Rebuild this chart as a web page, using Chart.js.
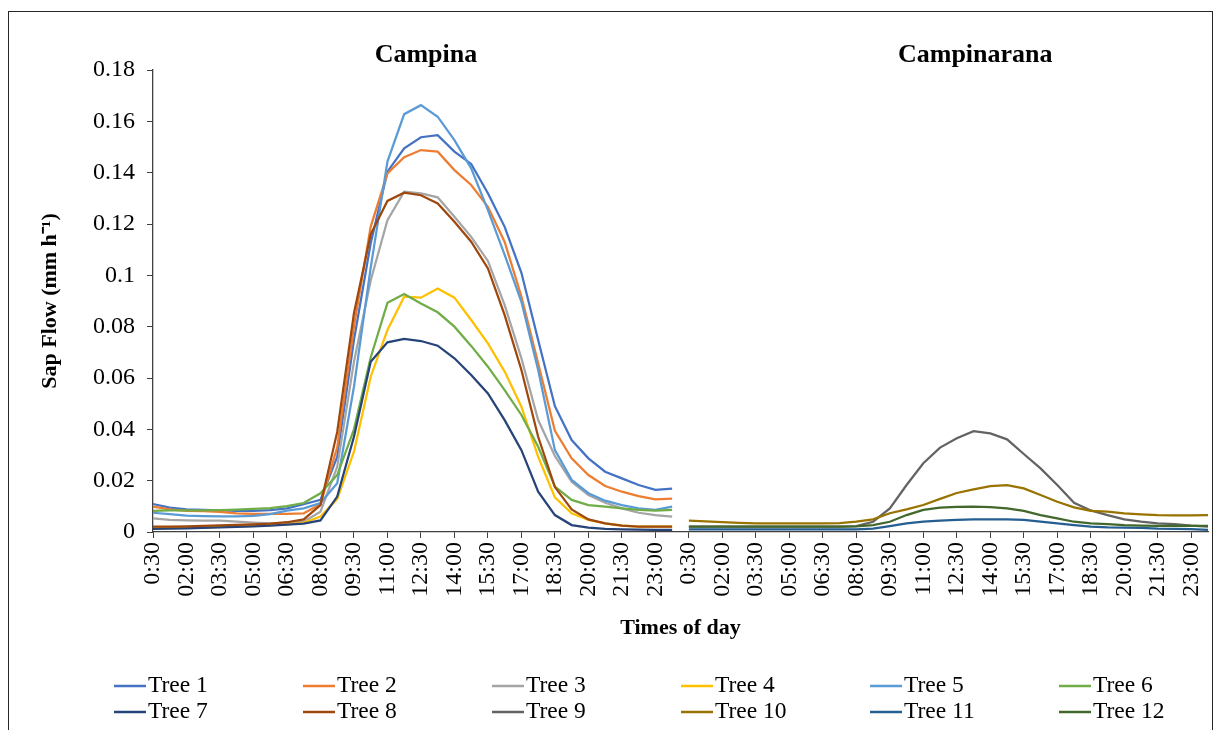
<!DOCTYPE html>
<html>
<head>
<meta charset="utf-8">
<script src="https://cdn.jsdelivr.net/npm/chart.js@4.4.1/dist/chart.umd.min.js"></script>
<style>
  body { margin: 0; background: #fff; }
  #wrap { width: 1217px; height: 730px; }
</style>
</head>
<body>
<div id="wrap"><canvas id="sapChart" width="1217" height="730"></canvas></div>
<script>
// times of day, one entry every 45 min
const times = ['0:30','01:15','02:00','02:45','03:30','04:15','05:00','05:45','06:30','07:15','08:00','08:45',
  '09:30','10:15','11:00','11:45','12:30','13:15','14:00','14:45','15:30','16:15','17:00','17:45',
  '18:30','19:15','20:00','20:45','21:30','22:15','23:00','23:45'];

const sites = ['Campina', 'Campinarana'];

// Campina
const tree1 = [0.0109,0.0095,0.0088,0.0086,0.0084,0.0082,0.0082,0.0085,0.0092,0.0108,0.0125,0.0293,0.0748,0.1125,0.1404,0.1495,0.1538,0.1546,0.1482,0.1434,0.1320,0.1189,0.1010,0.0748,0.0490,0.0358,0.0287,0.0235,0.0209,0.0183,0.0164,0.0169];
const tree2 = [0.0099,0.0088,0.0082,0.0081,0.0078,0.0073,0.0071,0.0071,0.0071,0.0073,0.0108,0.0330,0.0800,0.1190,0.1397,0.1460,0.1488,0.1482,0.1410,0.1352,0.1267,0.1130,0.0917,0.0657,0.0394,0.0287,0.0222,0.0179,0.0157,0.0140,0.0127,0.0130];
const tree3 = [0.0053,0.0047,0.0045,0.0044,0.0044,0.0040,0.0037,0.0034,0.0034,0.0040,0.0079,0.0254,0.0663,0.0980,0.1215,0.1326,0.1319,0.1304,0.1228,0.1150,0.1056,0.0884,0.0677,0.0436,0.0296,0.0196,0.0144,0.0114,0.0092,0.0075,0.0066,0.0060];
const tree4 = [0.0015,0.0015,0.0016,0.0018,0.0020,0.0022,0.0024,0.0027,0.0030,0.0036,0.0060,0.0128,0.0313,0.0605,0.0787,0.0917,0.0913,0.0949,0.0913,0.0826,0.0735,0.0625,0.0488,0.0293,0.0135,0.0073,0.0047,0.0034,0.0025,0.0021,0.0021,0.0021];
const tree5 = [0.0075,0.0070,0.0064,0.0062,0.0061,0.0061,0.0063,0.0070,0.0083,0.0092,0.0113,0.0190,0.0566,0.1030,0.1443,0.1628,0.1663,0.1618,0.1527,0.1417,0.1254,0.1080,0.0897,0.0631,0.0319,0.0203,0.0151,0.0122,0.0105,0.0092,0.0086,0.0099];
const tree6 = [0.0082,0.0084,0.0084,0.0084,0.0085,0.0087,0.0090,0.0093,0.0101,0.0113,0.0151,0.0222,0.0400,0.0680,0.0893,0.0927,0.0890,0.0856,0.0800,0.0725,0.0644,0.0553,0.0456,0.0332,0.0177,0.0125,0.0105,0.0099,0.0092,0.0086,0.0083,0.0086];
const tree7 = [0.0012,0.0013,0.0014,0.0016,0.0018,0.0020,0.0022,0.0025,0.0029,0.0033,0.0045,0.0138,0.0371,0.0663,0.0739,0.0752,0.0744,0.0726,0.0677,0.0612,0.0540,0.0436,0.0319,0.0157,0.0066,0.0027,0.0017,0.0012,0.0010,0.0009,0.0008,0.0008];
const tree8 = [0.0021,0.0021,0.0022,0.0024,0.0026,0.0028,0.0030,0.0033,0.0038,0.0049,0.0105,0.0390,0.0852,0.1160,0.1290,0.1322,0.1312,0.1280,0.1209,0.1131,0.1027,0.0845,0.0631,0.0371,0.0175,0.0088,0.0049,0.0034,0.0025,0.0021,0.0021,0.0021];
// Campinarana
const tree9  = [0.0021,0.0021,0.0021,0.0021,0.0021,0.0021,0.0021,0.0021,0.0021,0.0021,0.0023,0.0040,0.0092,0.0183,0.0268,0.0329,0.0365,0.0393,0.0384,0.0361,0.0304,0.0248,0.0183,0.0114,0.0084,0.0066,0.0049,0.0040,0.0034,0.0031,0.0025,0.0021];
const tree10 = [0.0044,0.0041,0.0038,0.0036,0.0034,0.0034,0.0034,0.0034,0.0034,0.0035,0.0040,0.0049,0.0073,0.0088,0.0105,0.0129,0.0152,0.0166,0.0179,0.0183,0.0170,0.0144,0.0118,0.0096,0.0082,0.0079,0.0073,0.0069,0.0066,0.0065,0.0065,0.0066];
const tree11 = [0.0010,0.0010,0.0010,0.0010,0.0010,0.0010,0.0010,0.0010,0.0010,0.0010,0.0010,0.0013,0.0023,0.0034,0.0040,0.0044,0.0047,0.0049,0.0049,0.0049,0.0047,0.0040,0.0034,0.0027,0.0021,0.0018,0.0017,0.0016,0.0013,0.0012,0.0011,0.0008];
const tree12 = [0.0021,0.0021,0.0021,0.0021,0.0021,0.0021,0.0021,0.0021,0.0021,0.0021,0.0022,0.0027,0.0040,0.0066,0.0086,0.0095,0.0098,0.0099,0.0097,0.0092,0.0082,0.0066,0.0053,0.0040,0.0034,0.0031,0.0027,0.0025,0.0024,0.0024,0.0024,0.0024];

const campinaTrees = [tree1, tree2, tree3, tree4, tree5, tree6, tree7, tree8];
const campinaranaTrees = [tree9, tree10, tree11, tree12];
const colors = ['#4472C4','#ED7D31','#A5A5A5','#FFC000','#5B9BD5','#70AD47','#264478','#9E480E','#636363','#997300','#255E91','#43682B'];

const blank = times.map(() => null);
const labels = times.concat(times);

const datasets = [];
campinaTrees.forEach(vals => datasets.push(vals.concat(blank)));
campinaranaTrees.forEach(vals => datasets.push(blank.concat(vals)));

const serif = '"Liberation Serif", "Times New Roman", serif';

const extras = {
    id: 'extras',
    afterDraw(chart) {
        const ctx = chart.ctx;
        const x = chart.scales.x;
        ctx.save();
        // outer frame
        ctx.strokeStyle = '#262626';
        ctx.lineWidth = 1;
        ctx.strokeRect(8.5, 11.5, 1204, 740);

        // panel titles
        ctx.fillStyle = '#000';
        ctx.font = 'bold 26px ' + serif;
        ctx.textAlign = 'center';
        ctx.textBaseline = 'middle';
        ctx.fillText(sites[0], x.getPixelForValue(16.3), 55);
        ctx.fillText(sites[1], x.getPixelForValue(49.1), 55);

        // legend, 6 columns x 2 rows
        ctx.font = '23.5px ' + serif;
        ctx.textAlign = 'left';
        chart.data.datasets.forEach((ds, i) => {
            const lx = 114 + (i % 6) * 189;
            const ly = 686 + Math.floor(i / 6) * 26;
            ctx.strokeStyle = ds.borderColor;
            ctx.lineWidth = 2.5;
            ctx.beginPath();
            ctx.moveTo(lx, ly);
            ctx.lineTo(lx + 32, ly);
            ctx.stroke();
            ctx.fillText(ds.label, lx + 34, ly);
        });
        ctx.restore();
    }
};

const tickEven = (c) => (c.index % 2 === 0 ? '#404040' : 'rgba(0,0,0,0)');

new Chart(document.getElementById('sapChart'), {
    type: 'line',
    data: {
        labels: labels,
        datasets: datasets.map((d, i) => ({
            label: 'Tree ' + (i + 1),
            data: d,
            borderColor: colors[i],
            backgroundColor: colors[i],
            borderWidth: 2.25,
            pointRadius: 0,
            tension: 0,
            order: 12 - i
        }))
    },
    options: {
        responsive: false,
        animation: false,
        layout: { padding: { left: 30, top: 70, right: 9, bottom: 88 } },
        plugins: {
            legend: { display: false },
            tooltip: { enabled: false }
        },
        scales: {
            x: {
                offset: false,
                afterFit: (s) => {
                    s.height = 110;
                    s.paddingLeft = 0;
                    s.paddingRight = 0;
                },
                border: { display: true, color: '#404040', width: 1.3 },
                grid: {
                    drawOnChartArea: false,
                    drawTicks: true,
                    tickLength: 6,
                    color: tickEven,
                    tickColor: tickEven
                },
                ticks: {
                    autoSkip: false,
                    maxRotation: 90,
                    minRotation: 90,
                    padding: 4,
                    color: '#000',
                    font: { family: serif, size: 24 },
                    callback: function (val, idx) {
                        return idx % 2 === 0 ? this.getLabelForValue(val) : '';
                    }
                },
                title: {
                    display: true,
                    text: 'Times of day',
                    color: '#000',
                    font: { family: serif, size: 22, weight: 'bold' },
                    padding: { top: 0, bottom: 0 }
                }
            },
            y: {
                min: 0,
                max: 0.18,
                afterFit: (s) => { s.width = 123; },
                border: { display: true, color: '#404040', width: 1.3 },
                grid: {
                    drawOnChartArea: false,
                    drawTicks: true,
                    tickLength: 6,
                    color: '#404040'
                },
                ticks: {
                    stepSize: 0.02,
                    padding: 12,
                    color: '#000',
                    font: { family: serif, size: 24 },
                    callback: (v) => String(+v.toFixed(2))
                },
                title: {
                    display: true,
                    text: 'Sap Flow (mm h\u207B\u00B9)',
                    color: '#000',
                    font: { family: serif, size: 22, weight: 'bold' },
                    padding: { top: 7, bottom: 0 }
                }
            }
        }
    },
    plugins: [extras]
});
</script>
</body>
</html>
